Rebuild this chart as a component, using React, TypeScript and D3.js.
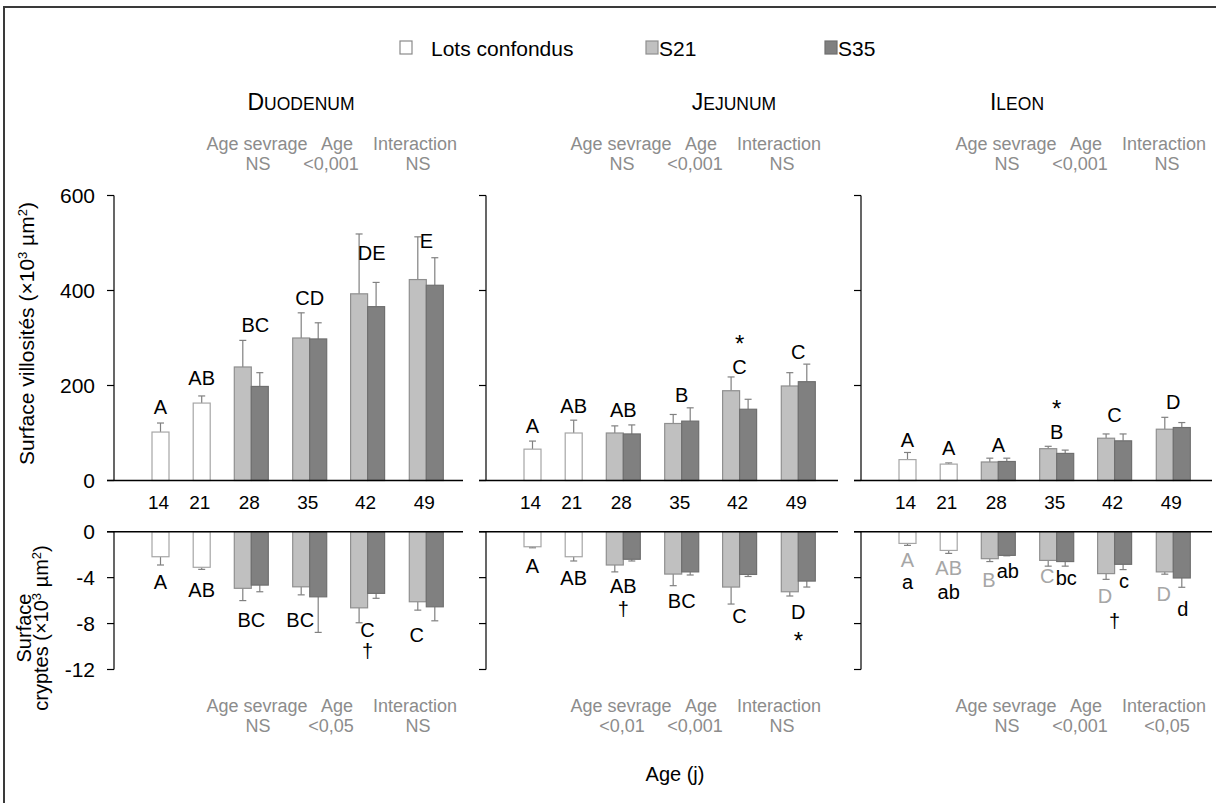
import React from 'react';
import * as d3 from 'd3';

// ---------- DATA ----------
const ages = [14, 21, 28, 35, 42, 49];
const segmentNames = ['Duodenum', 'Jejunum', 'Ileon'];
const legendLabels = ['Lots confondus', 'S21', 'S35'];
const villTicks = [0, 200, 400, 600];
const cryptTicks = [0, -4, -8, -12];

// Surface villosités (x10^3 µm²) : mean and SE
const duoVilLots = [102, 163, null, null, null, null];
const duoVilLotsSE = [19, 15, null, null, null, null];
const duoVilS21 = [null, null, 239, 300, 393, 423];
const duoVilS21SE = [null, null, 56, 53, 126, 90];
const duoVilS35 = [null, null, 198, 298, 366, 411];
const duoVilS35SE = [null, null, 29, 34, 51, 58];

const jejVilLots = [66, 100, null, null, null, null];
const jejVilLotsSE = [17, 27, null, null, null, null];
const jejVilS21 = [null, null, 100, 120, 189, 199];
const jejVilS21SE = [null, null, 15, 19, 29, 28];
const jejVilS35 = [null, null, 98, 125, 150, 208];
const jejVilS35SE = [null, null, 19, 28, 21, 37];

const ileVilLots = [44, 34.5, null, null, null, null];
const ileVilLotsSE = [15, 2.5, null, null, null, null];
const ileVilS21 = [null, null, 39, 67, 89, 108];
const ileVilS21SE = [null, null, 8, 5, 9, 25];
const ileVilS35 = [null, null, 40, 57, 83.5, 111.5];
const ileVilS35SE = [null, null, 7, 7, 14.5, 10.5];

// Surface cryptes (x10^3 µm²) : mean and SE (negative axis)
const duoCryLots = [-2.18, -3.1, null, null, null, null];
const duoCryLotsSE = [0.72, 0.18, null, null, null, null];
const duoCryS21 = [null, null, -4.93, -4.8, -6.63, -6.1];
const duoCryS21SE = [null, null, 1.07, 0.7, 1.3, 0.73];
const duoCryS35 = [null, null, -4.65, -5.67, -5.37, -6.54];
const duoCryS35SE = [null, null, 0.58, 3.1, 0.43, 1.22];

const jejCryLots = [-1.31, -2.18, null, null, null, null];
const jejCryLotsSE = [0.09, 0.37, null, null, null, null];
const jejCryS21 = [null, null, -2.9, -3.69, -4.82, -5.23];
const jejCryS21SE = [null, null, 0.6, 1.01, 1.48, 0.37];
const jejCryS35 = [null, null, -2.4, -3.5, -3.72, -4.3];
const jejCryS35SE = [null, null, 0.15, 0.27, 0.18, 0.52];

const ileCryLots = [-1.02, -1.63, null, null, null, null];
const ileCryLotsSE = [0.17, 0.26, null, null, null, null];
const ileCryS21 = [null, null, -2.35, -2.5, -3.65, -3.5];
const ileCryS21SE = [null, null, 0.25, 0.5, 0.5, 0.2];
const ileCryS35 = [null, null, -2.06, -2.6, -2.84, -4.03];
const ileCryS35SE = [null, null, 0.04, 0.4, 0.46, 0.81];

// Statistics
const statHeaders = ['Age sevrage', 'Age', 'Interaction'];
const duoVilStats = ['NS', '<0,001', 'NS'];
const jejVilStats = ['NS', '<0,001', 'NS'];
const ileVilStats = ['NS', '<0,001', 'NS'];
const duoCryStats = ['NS', '<0,05', 'NS'];
const jejCryStats = ['<0,01', '<0,001', 'NS'];
const ileCryStats = ['NS', '<0,001', '<0,05'];

// Significance letters: [age, text, value at baseline, slot, tone]
type Lab = [number, string, number, string?, string?];
const duoVilLetters: Lab[] = [[14, 'A', 141], [21, 'AB', 201], [28, 'BC', 313, 'c+'], [35, 'CD', 370], [42, 'DE', 465, 'c+'], [49, 'E', 489]];
const jejVilLetters: Lab[] = [[14, 'A', 99], [21, 'AB', 143], [28, 'AB', 133], [35, 'B', 166], [42, 'C', 225], [42, '*', 270], [49, 'C', 256]];
const ileVilLetters: Lab[] = [[14, 'A', 70], [21, 'A', 54], [28, 'A', 60], [35, 'B', 88], [35, '*', 134], [42, 'C', 123], [49, 'D', 151]];
const duoCryLetters: Lab[] = [[14, 'A', -5.02], [21, 'AB', -5.67], [28, 'BC', -8.28], [35, 'BC', -8.28, 'l'], [42, 'C', -9.15], [42, '†', -10.96], [49, 'C', -9.59, 'l']];
const jejCryLetters: Lab[] = [[14, 'A', -3.62], [21, 'AB', -4.63], [28, 'AB', -5.36], [28, '†', -7.3], [35, 'BC', -6.66], [42, 'C', -7.97], [49, 'D', -7.62], [49, '*', -10.2]];
const ileCryLetters: Lab[] = [
  [14, 'A', -3.1, 'c', 'g'], [14, 'a', -4.95],
  [21, 'AB', -3.75, 'c', 'g'], [21, 'ab', -5.85],
  [28, 'B', -4.8, 'l', 'g'], [28, 'ab', -4.01, 'r'],
  [35, 'C', -4.45, 'l', 'g'], [35, 'bc', -4.6, 'r'],
  [42, 'D', -6.2, 'l', 'g'], [42, 'c', -4.89, 'r'], [42, '†', -8.39],
  [49, 'D', -6.05, 'l', 'g'], [49, 'd', -7.3, 'r'],
];

// ---------- LAYOUT ----------
const FONT = 'Liberation Sans, Arial, Helvetica, sans-serif';
const panelAxisX = [114, 486, 861];
const panelRight = [463, 838, 1212];
const catOffsets = [46.5, 87.7, 137.3, 195.7, 253.6, 312.3];
const titleX = [301, 734, 1017];
const statStartX = [206, 570, 955];
const BAR_W = 17;
const LOTS_FILL = '#ffffff';
const S21_FILL = '#c0c0c0';
const S35_FILL = '#808080';
const ERR = '#808080';
const STAT_GRAY = '#8c8c8c';

const yV = d3.scaleLinear().domain([0, 600]).range([480.5, 195.5]);
const yC = d3.scaleLinear().domain([0, -12]).range([531.7, 669.5]);

const panels = [
  {
    vil: [duoVilLots, duoVilLotsSE, duoVilS21, duoVilS21SE, duoVilS35, duoVilS35SE],
    cry: [duoCryLots, duoCryLotsSE, duoCryS21, duoCryS21SE, duoCryS35, duoCryS35SE],
    vilStats: duoVilStats, cryStats: duoCryStats, vilLab: duoVilLetters, cryLab: duoCryLetters,
  },
  {
    vil: [jejVilLots, jejVilLotsSE, jejVilS21, jejVilS21SE, jejVilS35, jejVilS35SE],
    cry: [jejCryLots, jejCryLotsSE, jejCryS21, jejCryS21SE, jejCryS35, jejCryS35SE],
    vilStats: jejVilStats, cryStats: jejCryStats, vilLab: jejVilLetters, cryLab: jejCryLetters,
  },
  {
    vil: [ileVilLots, ileVilLotsSE, ileVilS21, ileVilS21SE, ileVilS35, ileVilS35SE],
    cry: [ileCryLots, ileCryLotsSE, ileCryS21, ileCryS21SE, ileCryS35, ileCryS35SE],
    vilStats: ileVilStats, cryStats: ileCryStats, vilLab: ileVilLetters, cryLab: ileCryLetters,
  },
];

function Bars({ series, x, y }: { series: (number | null)[][]; x: d3.ScaleOrdinal<number, number>; y: d3.ScaleLinear<number, number> }) {
  const [lots, lotsSE, s21, s21SE, s35, s35SE] = series;
  const els: React.ReactNode[] = [];
  const bar = (key: string, x0: number, v: number, se: number, fill: string, stroke: string) => {
    const y0 = y(0), yv = y(v);
    const sign = v >= 0 ? 1 : -1;
    const ye = y(v + sign * se);
    const cx = x0 + BAR_W / 2;
    els.push(
      <g key={key}>
        <line x1={cx} x2={cx} y1={yv} y2={ye} stroke={ERR} strokeWidth={1.2} />
        <line x1={cx - 3.5} x2={cx + 3.5} y1={ye} y2={ye} stroke={ERR} strokeWidth={1.2} />
        <rect x={x0} y={Math.min(y0, yv)} width={BAR_W} height={Math.abs(yv - y0)} fill={fill} stroke={stroke} strokeWidth={1.2} />
      </g>
    );
  };
  ages.forEach((a, i) => {
    const cx = x(a);
    if (lots[i] != null) bar('l' + a, cx - BAR_W / 2, lots[i] as number, lotsSE[i] as number, LOTS_FILL, '#a6a6a6');
    if (s21[i] != null) bar('a' + a, cx - BAR_W, s21[i] as number, s21SE[i] as number, S21_FILL, '#8f8f8f');
    if (s35[i] != null) bar('b' + a, cx, s35[i] as number, s35SE[i] as number, S35_FILL, '#6f6f6f');
  });
  return <g>{els}</g>;
}

function Letters({ labs, x, y }: { labs: Lab[]; x: d3.ScaleOrdinal<number, number>; y: d3.ScaleLinear<number, number> }) {
  return (
    <g fontFamily={FONT} fontSize={20} textAnchor="middle">
      {labs.map((l, i) => {
        const [age, t, v, slot, tone] = l;
        let dx = 0;
        if (slot === 'l') dx = -BAR_W / 2 - 1;
        else if (slot === 'r') dx = BAR_W / 2 + 1;
        else if (slot === 'c+') dx = 4;
        return (
          <text key={i} x={x(age) + dx} y={y(v)} fontSize={t === '*' ? 24 : 20} fill={tone === 'g' ? '#a6a6a6' : '#000'}>{t}</text>
        );
      })}
    </g>
  );
}

function Stats({ x0, y0, values }: { x0: number; y0: number; values: string[] }) {
  const hx = [51, 131, 209];
  const vx = [52, 125, 212];
  return (
    <g fontFamily={FONT} fontSize={18} fill={STAT_GRAY} textAnchor="middle">
      {statHeaders.map((h, i) => <text key={'h' + i} x={x0 + hx[i]} y={y0}>{h}</text>)}
      {values.map((v, i) => <text key={'v' + i} x={x0 + vx[i]} y={y0 + 20}>{v}</text>)}
    </g>
  );
}

export default function App() {
  return (
    <svg width={1216} height={803} viewBox="0 0 1216 803" style={{ position: 'absolute', left: 0, top: 0, background: '#fff' }}>
      <rect x={0} y={0} width={1216} height={803} fill="#fff" />
      <rect x={4} y={7} width={1300} height={900} fill="none" stroke="#3a3a3a" strokeWidth={2} />

      {/* Legend */}
      <g fontFamily={FONT} fontSize={21}>
        <rect x={400} y={41} width={12} height={13} fill={LOTS_FILL} stroke="#8a8a8a" strokeWidth={1.2} />
        <text x={431} y={56}>{legendLabels[0]}</text>
        <rect x={646} y={41} width={12} height={13} fill={S21_FILL} stroke="#8f8f8f" strokeWidth={1.2} />
        <text x={659} y={56}>{legendLabels[1]}</text>
        <rect x={825} y={41} width={12} height={13} fill={S35_FILL} stroke="#6f6f6f" strokeWidth={1.2} />
        <text x={838} y={56}>{legendLabels[2]}</text>
      </g>

      {/* Y titles */}
      <text transform="translate(34,333.5) rotate(-90)" fontFamily={FONT} fontSize={21} textAnchor="middle">
        Surface villosités (×10<tspan dy={-7} fontSize={13}>3</tspan><tspan dy={7}> µm</tspan><tspan dy={-7} fontSize={13}>2</tspan><tspan dy={7}>)</tspan>
      </text>
      <text transform="translate(31,628) rotate(-90)" fontFamily={FONT} fontSize={20} textAnchor="middle">Surface</text>
      <text transform="translate(48,628) rotate(-90)" fontFamily={FONT} fontSize={20} textAnchor="middle">
        cryptes (×10<tspan dy={-7} fontSize={13}>3</tspan><tspan dy={7}> µm</tspan><tspan dy={-7} fontSize={13}>2</tspan><tspan dy={7}>)</tspan>
      </text>

      {panels.map((p, pi) => {
        const ax = panelAxisX[pi];
        const right = panelRight[pi];
        const x = d3.scaleOrdinal<number, number>().domain(ages).range(catOffsets.map((o) => ax + o));
        const name = segmentNames[pi].toUpperCase();
        return (
          <g key={pi}>
            {/* Title in small caps */}
            <text x={titleX[pi]} y={110} fontFamily={FONT} textAnchor="middle" fill="#000">
              <tspan fontSize={23}>{name[0]}</tspan>
              <tspan fontSize={17.5}>{name.slice(1)}</tspan>
            </text>
            <Stats x0={statStartX[pi]} y0={150} values={p.vilStats} />
            <Stats x0={statStartX[pi]} y0={712} values={p.cryStats} />

            {/* Upper chart */}
            <Bars series={p.vil as (number | null)[][]} x={x} y={yV} />
            <line x1={ax} x2={ax} y1={yV(600)} y2={yV(0)} stroke="#000" strokeWidth={1.2} />
            {villTicks.map((t) => (
              <g key={'vt' + t}>
                <line x1={ax - 7} x2={ax} y1={yV(t)} y2={yV(t)} stroke="#000" strokeWidth={1.2} />
                {pi === 0 && (
                  <text x={ax - 19} y={yV(t) + 7.5} fontFamily={FONT} fontSize={21} textAnchor="end">{t}</text>
                )}
              </g>
            ))}
            <line x1={ax - 7} x2={right} y1={yV(0)} y2={yV(0)} stroke="#000" strokeWidth={1.4} />
            <Letters labs={p.vilLab} x={x} y={yV} />
            <g fontFamily={FONT} fontSize={19} textAnchor="middle">
              {ages.map((a) => (
                <text key={'c' + a} x={x(a) - 2} y={508.5}>{a}</text>
              ))}
            </g>

            {/* Lower chart */}
            <Bars series={p.cry as (number | null)[][]} x={x} y={yC} />
            <line x1={ax} x2={ax} y1={yC(0)} y2={yC(-12)} stroke="#000" strokeWidth={1.2} />
            {cryptTicks.map((t) => (
              <g key={'ct' + t}>
                <line x1={ax - 7} x2={ax} y1={yC(t)} y2={yC(t)} stroke="#000" strokeWidth={1.2} />
                {pi === 0 && (
                  <text x={ax - 19} y={yC(t) + 7.5} fontFamily={FONT} fontSize={21} textAnchor="end">{t}</text>
                )}
              </g>
            ))}
            <line x1={ax - 7} x2={right} y1={yC(0)} y2={yC(0)} stroke="#000" strokeWidth={1.4} />
            <Letters labs={p.cryLab} x={x} y={yC} />
          </g>
        );
      })}

      <text x={675} y={781} fontFamily={FONT} fontSize={20} textAnchor="middle">Age (j)</text>
    </svg>
  );
}
